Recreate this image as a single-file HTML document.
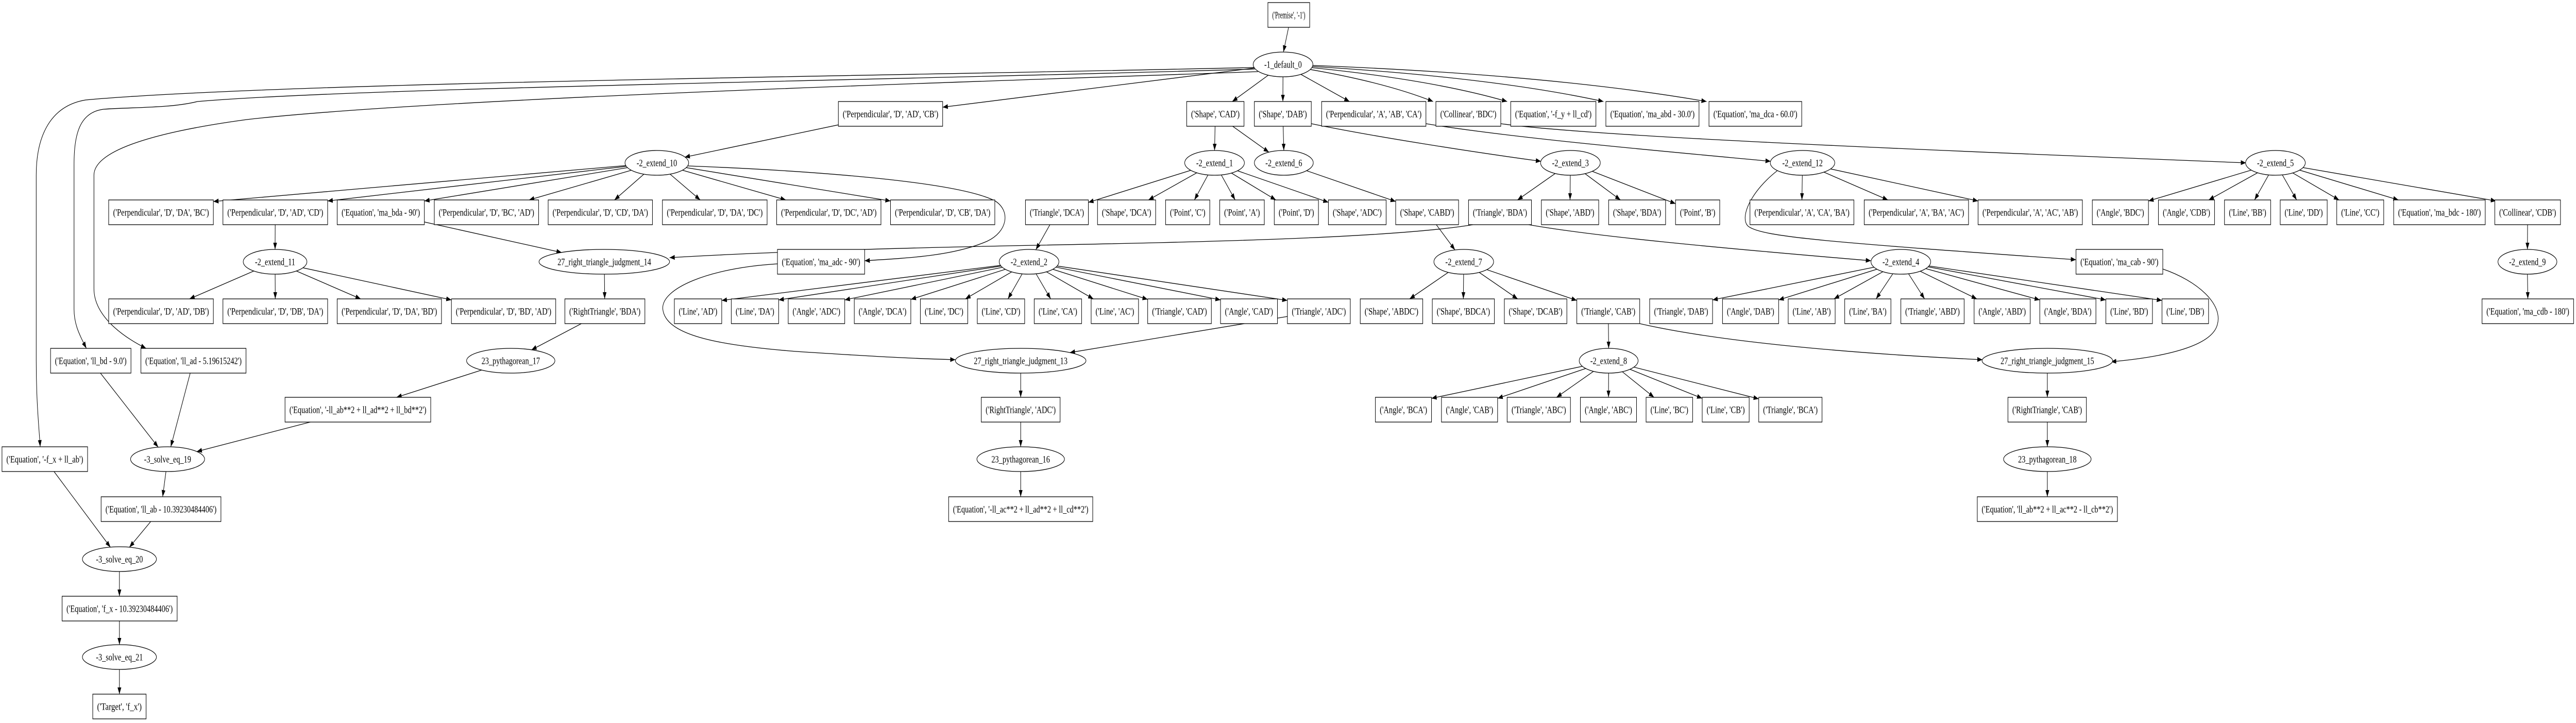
<!DOCTYPE html>
<html><head><meta charset="utf-8"><style>
html,body{margin:0;padding:0;background:#fff;overflow:hidden;}
svg{display:block;width:100vw;height:100vh;}
rect,ellipse{fill:#fff;stroke:#000;stroke-width:1.3;}
text{font-family:"Liberation Serif",serif;font-size:18.5px;text-anchor:middle;fill:#000;}
#edges path{fill:none;stroke:#000;stroke-width:1.3;marker-end:url(#ah);}
</style></head><body>
<svg viewBox="0 0 6471 1403" preserveAspectRatio="none" xmlns="http://www.w3.org/2000/svg">
<defs><marker id="ah" markerUnits="userSpaceOnUse" markerWidth="14" markerHeight="10" refX="13" refY="4.7" orient="auto"><path d="M0,0 L13,4.7 L0,9.4 z" fill="#000" stroke="none"/></marker></defs>
<g id="edges">
<path d="M3237,53 L3224,101"/>
<path d="M3223,125 L2368,208"/>
<path d="M3223,125 L3095.5,197"/>
<path d="M3223,125 L3222.6,197"/>
<path d="M3223,125 L3390,197"/>
<path d="M3285,134 Q3480,160 3600,197"/>
<path d="M3292,131 Q3600,155 3786,197"/>
<path d="M3296,129 Q3750,150 4028,197"/>
<path d="M3297,127 Q3900,145 4287,197"/>
<path d="M3150,131 C2200,148 700,160 215,194 C130,205 91,260 91,340 L91,700 C91,780 98,830 101,867"/>
<path d="M3152,134 C2300,155 900,170 496,197 C430,210 330,208 260,212 C200,218 186,260 186,320 L186,600 C186,630 200,650 217,676"/>
<path d="M3160,139 C2400,160 1100,190 620,232 C400,255 236,290 236,340 L236,560 C236,610 300,650 367,676"/>
<path d="M2237,221 L1720,305"/>
<path d="M1650,316 L536,391"/>
<path d="M1650,316 L823,390"/>
<path d="M1650,316 L1066,390"/>
<path d="M1650,316 L1329,388"/>
<path d="M1650,316 L1543.5,388"/>
<path d="M1650,316 L1759,388"/>
<path d="M1650,316 L1974,388"/>
<path d="M1650,316 L2237,390"/>
<path d="M1728,322 C2000,330 2400,350 2500,390 C2540,410 2530,450 2480,468 C2400,495 2300,500 2172,506"/>
<path d="M691.5,412 L691,484"/>
<path d="M691,508 L476,580"/>
<path d="M691,508 L691.5,580"/>
<path d="M691,508 L906,580"/>
<path d="M691,508 L1134,582"/>
<path d="M956.5,412 L1411,490"/>
<path d="M3700,436 C3500,462 3000,470 2600,476 C2200,482 1900,490 1682,500"/>
<path d="M1518,508 L1519,580"/>
<path d="M1519.5,604 L1335,679"/>
<path d="M1283,700 L996,771"/>
<path d="M899,795 L494.3,876.3"/>
<path d="M228,700 L397.5,867.8"/>
<path d="M486,700 L429,867"/>
<path d="M421,891 L408.6,964"/>
<path d="M404.5,988 L325,1062"/>
<path d="M112.5,891 L277.5,1062"/>
<path d="M300,1109 L300,1157"/>
<path d="M300,1205 L300,1251"/>
<path d="M300,1299 L300,1347"/>
<path d="M3053,221 L3051,292"/>
<path d="M3053,221 L3187.5,295.3"/>
<path d="M3222.5,221 L3225,292"/>
<path d="M3294,240 C3450,265 3700,295 3871,313"/>
<path d="M3051,316 L2734,392.8"/>
<path d="M3051,316 L2885,388"/>
<path d="M3051,316 L3000.4,388"/>
<path d="M3051,316 L3102.75,388"/>
<path d="M3051,316 L3205,388"/>
<path d="M3051,316 L3337,392.6"/>
<path d="M3225,316 L3506,391"/>
<path d="M2655,412 L2602,484.6"/>
<path d="M2585,508 L1813,583"/>
<path d="M2585,508 L1956,582"/>
<path d="M2585,508 L2122,582"/>
<path d="M2585,508 L2288,581"/>
<path d="M2585,508 L2425,580"/>
<path d="M2585,508 L2532,580"/>
<path d="M2585,508 L2639.4,580"/>
<path d="M2585,508 L2746.6,580"/>
<path d="M2585,508 L2883,581"/>
<path d="M2585,508 L3066,582"/>
<path d="M2585,508 L3234,583"/>
<path d="M3313,604 L2687.4,684.2"/>
<path d="M1953,512 C1780,520 1660,560 1665,600 C1672,650 1800,670 2000,682 C2200,692 2300,696 2400,698"/>
<path d="M2564,724 L2564,771"/>
<path d="M2564,819 L2564,867"/>
<path d="M2564,915 L2564,964"/>
<path d="M3585,412 L3655,485"/>
<path d="M3677,508 L3541,580"/>
<path d="M3677,508 L3676,580"/>
<path d="M3677,508 L3812.4,580"/>
<path d="M3677,508 L3961,583"/>
<path d="M3945,316 L3812,388"/>
<path d="M3945,316 L3944,388"/>
<path d="M3945,316 L4070.6,388"/>
<path d="M3945,316 L4209,395.3"/>
<path d="M3840,436 C4000,458 4300,480 4700,506"/>
<path d="M4775,508 L4302,582"/>
<path d="M4775,508 L4468,582"/>
<path d="M4775,508 L4607,580"/>
<path d="M4775,508 L4712.75,580"/>
<path d="M4775,508 L4834.6,580"/>
<path d="M4775,508 L4965.9,580"/>
<path d="M4775,508 L5124,582"/>
<path d="M4775,508 L5290,582"/>
<path d="M4775,508 L5431,583"/>
<path d="M4040,604 L4041,676"/>
<path d="M4041,700 L3596,773"/>
<path d="M4041,700 L3762,773"/>
<path d="M4041,700 L3910,771"/>
<path d="M4041,700 L4040.6,771"/>
<path d="M4041,700 L4155,771"/>
<path d="M4041,700 L4276,773"/>
<path d="M4041,700 L4418,774"/>
<path d="M4119,628 C4300,660 4600,684 4980,698"/>
<path d="M3582,240 C3800,268 4200,295 4448,313"/>
<path d="M4528,316 L4526.5,388"/>
<path d="M4528,316 L4742.5,388"/>
<path d="M4528,316 L4969,390"/>
<path d="M4465,331 C4400,370 4370,420 4390,438 C4420,460 4600,470 5215,504"/>
<path d="M5433,522 C5520,545 5585,590 5570,630 C5555,675 5420,694 5303,702"/>
<path d="M5143,724 L5143,771"/>
<path d="M5143,819 L5143,867"/>
<path d="M5143,915 L5143,964"/>
<path d="M3770,240 C4000,265 4800,290 5642,316"/>
<path d="M5716,316 L5397,390"/>
<path d="M5716,316 L5548.4,388"/>
<path d="M5716,316 L5663.5,388"/>
<path d="M5716,316 L5769.25,388"/>
<path d="M5716,316 L5875.75,388"/>
<path d="M5716,316 L6025,388"/>
<path d="M5716,316 L6270,390"/>
<path d="M6349.5,412 L6349,484"/>
<path d="M6349,532 L6350,580"/>
</g>
<g id="nodes">
<g><rect x="3185" y="5" width="105" height="48"/><text x="3237.5" y="35.5" textLength="83" lengthAdjust="spacingAndGlyphs">('Premise', '-1')</text></g>
<g><ellipse cx="3223" cy="125" rx="75" ry="24"/><text x="3223" y="131.5">-1_default_0</text></g>

<g><rect x="2106" y="197" width="262" height="48"/><text x="2237" y="227.5" textLength="240" lengthAdjust="spacingAndGlyphs">('Perpendicular', 'D', 'AD', 'CB')</text></g>
<g><rect x="2981" y="197" width="144" height="48"/><text x="3053" y="227.5" textLength="122" lengthAdjust="spacingAndGlyphs">('Shape', 'CAD')</text></g>
<g><rect x="3151" y="197" width="143" height="48"/><text x="3222.5" y="227.5" textLength="121" lengthAdjust="spacingAndGlyphs">('Shape', 'DAB')</text></g>
<g><rect x="3320" y="197" width="262" height="48"/><text x="3451" y="227.5" textLength="240" lengthAdjust="spacingAndGlyphs">('Perpendicular', 'A', 'AB', 'CA')</text></g>
<g><rect x="3607" y="197" width="163" height="48"/><text x="3688.5" y="227.5" textLength="141" lengthAdjust="spacingAndGlyphs">('Collinear', 'BDC')</text></g>
<g><rect x="3795" y="197" width="214" height="48"/><text x="3902" y="227.5" textLength="192" lengthAdjust="spacingAndGlyphs">('Equation', '-f_y + ll_cd')</text></g>
<g><rect x="4034" y="197" width="234" height="48"/><text x="4151" y="227.5" textLength="212" lengthAdjust="spacingAndGlyphs">('Equation', 'ma_abd - 30.0')</text></g>
<g><rect x="4293" y="197" width="233" height="48"/><text x="4409.5" y="227.5" textLength="211" lengthAdjust="spacingAndGlyphs">('Equation', 'ma_dca - 60.0')</text></g>

<g><ellipse cx="1650" cy="316" rx="80" ry="24"/><text x="1650" y="322.5">-2_extend_10</text></g>
<g><ellipse cx="3051" cy="316" rx="75" ry="24"/><text x="3051" y="322.5">-2_extend_1</text></g>
<g><ellipse cx="3225" cy="316" rx="74" ry="24"/><text x="3225" y="322.5">-2_extend_6</text></g>
<g><ellipse cx="3945" cy="316" rx="75" ry="24"/><text x="3945" y="322.5">-2_extend_3</text></g>
<g><ellipse cx="4528" cy="316" rx="81" ry="24"/><text x="4528" y="322.5">-2_extend_12</text></g>
<g><ellipse cx="5716" cy="316" rx="75" ry="24"/><text x="5716" y="322.5">-2_extend_5</text></g>

<g><rect x="273" y="388" width="263" height="48"/><text x="404.5" y="418.5" textLength="241" lengthAdjust="spacingAndGlyphs">('Perpendicular', 'D', 'DA', 'BC')</text></g>
<g><rect x="560" y="388" width="263" height="48"/><text x="691.5" y="418.5" textLength="241" lengthAdjust="spacingAndGlyphs">('Perpendicular', 'D', 'AD', 'CD')</text></g>
<g><rect x="847" y="388" width="219" height="48"/><text x="956.5" y="418.5" textLength="197" lengthAdjust="spacingAndGlyphs">('Equation', 'ma_bda - 90')</text></g>
<g><rect x="1091" y="388" width="262" height="48"/><text x="1222" y="418.5" textLength="240" lengthAdjust="spacingAndGlyphs">('Perpendicular', 'D', 'BC', 'AD')</text></g>
<g><rect x="1377" y="388" width="262" height="48"/><text x="1508" y="418.5" textLength="240" lengthAdjust="spacingAndGlyphs">('Perpendicular', 'D', 'CD', 'DA')</text></g>
<g><rect x="1664" y="388" width="263" height="48"/><text x="1795.5" y="418.5" textLength="241" lengthAdjust="spacingAndGlyphs">('Perpendicular', 'D', 'DA', 'DC')</text></g>
<g><rect x="1951" y="388" width="262" height="48"/><text x="2082" y="418.5" textLength="240" lengthAdjust="spacingAndGlyphs">('Perpendicular', 'D', 'DC', 'AD')</text></g>
<g><rect x="2237" y="388" width="262" height="48"/><text x="2368" y="418.5" textLength="240" lengthAdjust="spacingAndGlyphs">('Perpendicular', 'D', 'CB', 'DA')</text></g>
<g><rect x="2576" y="388" width="158" height="48"/><text x="2655" y="418.5" textLength="136" lengthAdjust="spacingAndGlyphs">('Triangle', 'DCA')</text></g>
<g><rect x="2757" y="388" width="146" height="48"/><text x="2830" y="418.5" textLength="124" lengthAdjust="spacingAndGlyphs">('Shape', 'DCA')</text></g>
<g><rect x="2928" y="388" width="111" height="48"/><text x="2983.5" y="418.5" textLength="89" lengthAdjust="spacingAndGlyphs">('Point', 'C')</text></g>
<g><rect x="3064" y="388" width="112" height="48"/><text x="3120" y="418.5" textLength="90" lengthAdjust="spacingAndGlyphs">('Point', 'A')</text></g>
<g><rect x="3201" y="388" width="111" height="48"/><text x="3256.5" y="418.5" textLength="89" lengthAdjust="spacingAndGlyphs">('Point', 'D')</text></g>
<g><rect x="3337" y="388" width="145" height="48"/><text x="3409.5" y="418.5" textLength="123" lengthAdjust="spacingAndGlyphs">('Shape', 'ADC')</text></g>
<g><rect x="3506" y="388" width="158" height="48"/><text x="3585" y="418.5" textLength="136" lengthAdjust="spacingAndGlyphs">('Shape', 'CABD')</text></g>
<g><rect x="3689" y="388" width="158" height="48"/><text x="3768" y="418.5" textLength="136" lengthAdjust="spacingAndGlyphs">('Triangle', 'BDA')</text></g>
<g><rect x="3872" y="388" width="144" height="48"/><text x="3944" y="418.5" textLength="122" lengthAdjust="spacingAndGlyphs">('Shape', 'ABD')</text></g>
<g><rect x="4041" y="388" width="143" height="48"/><text x="4112.5" y="418.5" textLength="121" lengthAdjust="spacingAndGlyphs">('Shape', 'BDA')</text></g>
<g><rect x="4209" y="388" width="111" height="48"/><text x="4264.5" y="418.5" textLength="89" lengthAdjust="spacingAndGlyphs">('Point', 'B')</text></g>
<g><rect x="4396" y="388" width="261" height="48"/><text x="4526.5" y="418.5" textLength="239" lengthAdjust="spacingAndGlyphs">('Perpendicular', 'A', 'CA', 'BA')</text></g>
<g><rect x="4683" y="388" width="262" height="48"/><text x="4814" y="418.5" textLength="240" lengthAdjust="spacingAndGlyphs">('Perpendicular', 'A', 'BA', 'AC')</text></g>
<g><rect x="4969" y="388" width="262" height="48"/><text x="5100" y="418.5" textLength="240" lengthAdjust="spacingAndGlyphs">('Perpendicular', 'A', 'AC', 'AB')</text></g>
<g><rect x="5256" y="388" width="141" height="48"/><text x="5326.5" y="418.5" textLength="119" lengthAdjust="spacingAndGlyphs">('Angle', 'BDC')</text></g>
<g><rect x="5422" y="388" width="141" height="48"/><text x="5492.5" y="418.5" textLength="119" lengthAdjust="spacingAndGlyphs">('Angle', 'CDB')</text></g>
<g><rect x="5588" y="388" width="116" height="48"/><text x="5646" y="418.5" textLength="94" lengthAdjust="spacingAndGlyphs">('Line', 'BB')</text></g>
<g><rect x="5728" y="388" width="118" height="48"/><text x="5787" y="418.5" textLength="96" lengthAdjust="spacingAndGlyphs">('Line', 'DD')</text></g>
<g><rect x="5870" y="388" width="118" height="48"/><text x="5929" y="418.5" textLength="96" lengthAdjust="spacingAndGlyphs">('Line', 'CC')</text></g>
<g><rect x="6013" y="388" width="230" height="48"/><text x="6128" y="418.5" textLength="208" lengthAdjust="spacingAndGlyphs">('Equation', 'ma_bdc - 180')</text></g>
<g><rect x="6267" y="388" width="165" height="48"/><text x="6349.5" y="418.5" textLength="143" lengthAdjust="spacingAndGlyphs">('Collinear', 'CDB')</text></g>

<g><rect x="1953" y="484" width="219" height="48"/><text x="2062.5" y="514.5" textLength="197" lengthAdjust="spacingAndGlyphs">('Equation', 'ma_adc - 90')</text></g>
<g><rect x="5215" y="484" width="218" height="48"/><text x="5324" y="514.5" textLength="196" lengthAdjust="spacingAndGlyphs">('Equation', 'ma_cab - 90')</text></g>
<g><ellipse cx="691" cy="508" rx="80" ry="24"/><text x="691" y="514.5">-2_extend_11</text></g>
<g><ellipse cx="1518" cy="508" rx="164" ry="24"/><text x="1518" y="514.5">27_right_triangle_judgment_14</text></g>
<g><ellipse cx="2585" cy="508" rx="75" ry="24"/><text x="2585" y="514.5">-2_extend_2</text></g>
<g><ellipse cx="3677" cy="508" rx="75" ry="24"/><text x="3677" y="514.5">-2_extend_7</text></g>
<g><ellipse cx="4775" cy="508" rx="75" ry="24"/><text x="4775" y="514.5">-2_extend_4</text></g>
<g><ellipse cx="6349" cy="508" rx="74" ry="24"/><text x="6349" y="514.5">-2_extend_9</text></g>

<g><rect x="273" y="580" width="263" height="48"/><text x="404.5" y="610.5" textLength="241" lengthAdjust="spacingAndGlyphs">('Perpendicular', 'D', 'AD', 'DB')</text></g>
<g><rect x="560" y="580" width="263" height="48"/><text x="691.5" y="610.5" textLength="241" lengthAdjust="spacingAndGlyphs">('Perpendicular', 'D', 'DB', 'DA')</text></g>
<g><rect x="847" y="580" width="262" height="48"/><text x="978" y="610.5" textLength="240" lengthAdjust="spacingAndGlyphs">('Perpendicular', 'D', 'DA', 'BD')</text></g>
<g><rect x="1134" y="580" width="262" height="48"/><text x="1265" y="610.5" textLength="240" lengthAdjust="spacingAndGlyphs">('Perpendicular', 'D', 'BD', 'AD')</text></g>
<g><rect x="1419" y="580" width="201" height="48"/><text x="1519.5" y="610.5" textLength="179" lengthAdjust="spacingAndGlyphs">('RightTriangle', 'BDA')</text></g>
<g><rect x="1694" y="580" width="119" height="48"/><text x="1753.5" y="610.5" textLength="97" lengthAdjust="spacingAndGlyphs">('Line', 'AD')</text></g>
<g><rect x="1837" y="580" width="119" height="48"/><text x="1896.5" y="610.5" textLength="97" lengthAdjust="spacingAndGlyphs">('Line', 'DA')</text></g>
<g><rect x="1980" y="580" width="142" height="48"/><text x="2051" y="610.5" textLength="120" lengthAdjust="spacingAndGlyphs">('Angle', 'ADC')</text></g>
<g><rect x="2146" y="580" width="142" height="48"/><text x="2217" y="610.5" textLength="120" lengthAdjust="spacingAndGlyphs">('Angle', 'DCA')</text></g>
<g><rect x="2312" y="580" width="119" height="48"/><text x="2371.5" y="610.5" textLength="97" lengthAdjust="spacingAndGlyphs">('Line', 'DC')</text></g>
<g><rect x="2455" y="580" width="119" height="48"/><text x="2514.5" y="610.5" textLength="97" lengthAdjust="spacingAndGlyphs">('Line', 'CD')</text></g>
<g><rect x="2598" y="580" width="119" height="48"/><text x="2657.5" y="610.5" textLength="97" lengthAdjust="spacingAndGlyphs">('Line', 'CA')</text></g>
<g><rect x="2741" y="580" width="119" height="48"/><text x="2800.5" y="610.5" textLength="97" lengthAdjust="spacingAndGlyphs">('Line', 'AC')</text></g>
<g><rect x="2883" y="580" width="160" height="48"/><text x="2963" y="610.5" textLength="138" lengthAdjust="spacingAndGlyphs">('Triangle', 'CAD')</text></g>
<g><rect x="3066" y="580" width="143" height="48"/><text x="3137.5" y="610.5" textLength="121" lengthAdjust="spacingAndGlyphs">('Angle', 'CAD')</text></g>
<g><rect x="3234" y="580" width="158" height="48"/><text x="3313" y="610.5" textLength="136" lengthAdjust="spacingAndGlyphs">('Triangle', 'ADC')</text></g>
<g><rect x="3417" y="580" width="157" height="48"/><text x="3495.5" y="610.5" textLength="135" lengthAdjust="spacingAndGlyphs">('Shape', 'ABDC')</text></g>
<g><rect x="3598" y="580" width="156" height="48"/><text x="3676" y="610.5" textLength="134" lengthAdjust="spacingAndGlyphs">('Shape', 'BDCA')</text></g>
<g><rect x="3779" y="580" width="157" height="48"/><text x="3857.5" y="610.5" textLength="135" lengthAdjust="spacingAndGlyphs">('Shape', 'DCAB')</text></g>
<g><rect x="3961" y="580" width="158" height="48"/><text x="4040" y="610.5" textLength="136" lengthAdjust="spacingAndGlyphs">('Triangle', 'CAB')</text></g>
<g><rect x="4144" y="580" width="158" height="48"/><text x="4223" y="610.5" textLength="136" lengthAdjust="spacingAndGlyphs">('Triangle', 'DAB')</text></g>
<g><rect x="4327" y="580" width="141" height="48"/><text x="4397.5" y="610.5" textLength="119" lengthAdjust="spacingAndGlyphs">('Angle', 'DAB')</text></g>
<g><rect x="4492" y="580" width="118" height="48"/><text x="4551" y="610.5" textLength="96" lengthAdjust="spacingAndGlyphs">('Line', 'AB')</text></g>
<g><rect x="4634" y="580" width="116" height="48"/><text x="4692" y="610.5" textLength="94" lengthAdjust="spacingAndGlyphs">('Line', 'BA')</text></g>
<g><rect x="4775" y="580" width="159" height="48"/><text x="4854.5" y="610.5" textLength="137" lengthAdjust="spacingAndGlyphs">('Triangle', 'ABD')</text></g>
<g><rect x="4959" y="580" width="141" height="48"/><text x="5029.5" y="610.5" textLength="119" lengthAdjust="spacingAndGlyphs">('Angle', 'ABD')</text></g>
<g><rect x="5124" y="580" width="141" height="48"/><text x="5194.5" y="610.5" textLength="119" lengthAdjust="spacingAndGlyphs">('Angle', 'BDA')</text></g>
<g><rect x="5290" y="580" width="117" height="48"/><text x="5348.5" y="610.5" textLength="95" lengthAdjust="spacingAndGlyphs">('Line', 'BD')</text></g>
<g><rect x="5431" y="580" width="117" height="48"/><text x="5489.5" y="610.5" textLength="95" lengthAdjust="spacingAndGlyphs">('Line', 'DB')</text></g>
<g><rect x="6235" y="580" width="230" height="48"/><text x="6350" y="610.5" textLength="208" lengthAdjust="spacingAndGlyphs">('Equation', 'ma_cdb - 180')</text></g>

<g><rect x="127" y="676" width="202" height="48"/><text x="228" y="706.5" textLength="180" lengthAdjust="spacingAndGlyphs">('Equation', 'll_bd - 9.0')</text></g>
<g><rect x="354" y="676" width="264" height="48"/><text x="486" y="706.5" textLength="242" lengthAdjust="spacingAndGlyphs">('Equation', 'll_ad - 5.19615242')</text></g>
<g><ellipse cx="1283" cy="700" rx="111" ry="24"/><text x="1283" y="706.5">23_pythagorean_17</text></g>
<g><ellipse cx="2564" cy="700" rx="164" ry="24"/><text x="2564" y="706.5">27_right_triangle_judgment_13</text></g>
<g><ellipse cx="4041" cy="700" rx="74" ry="24"/><text x="4041" y="706.5">-2_extend_8</text></g>
<g><ellipse cx="5143" cy="700" rx="164" ry="24"/><text x="5143" y="706.5">27_right_triangle_judgment_15</text></g>

<g><rect x="716" y="771" width="366" height="48"/><text x="899" y="801.5" textLength="344" lengthAdjust="spacingAndGlyphs">('Equation', '-ll_ab**2 + ll_ad**2 + ll_bd**2')</text></g>
<g><rect x="2465" y="771" width="198" height="48"/><text x="2564" y="801.5" textLength="176" lengthAdjust="spacingAndGlyphs">('RightTriangle', 'ADC')</text></g>
<g><rect x="3455" y="771" width="141" height="48"/><text x="3525.5" y="801.5" textLength="119" lengthAdjust="spacingAndGlyphs">('Angle', 'BCA')</text></g>
<g><rect x="3621" y="771" width="141" height="48"/><text x="3691.5" y="801.5" textLength="119" lengthAdjust="spacingAndGlyphs">('Angle', 'CAB')</text></g>
<g><rect x="3786" y="771" width="159" height="48"/><text x="3865.5" y="801.5" textLength="137" lengthAdjust="spacingAndGlyphs">('Triangle', 'ABC')</text></g>
<g><rect x="3970" y="771" width="141" height="48"/><text x="4040.5" y="801.5" textLength="119" lengthAdjust="spacingAndGlyphs">('Angle', 'ABC')</text></g>
<g><rect x="4135" y="771" width="117" height="48"/><text x="4193.5" y="801.5" textLength="95" lengthAdjust="spacingAndGlyphs">('Line', 'BC')</text></g>
<g><rect x="4276" y="771" width="118" height="48"/><text x="4335" y="801.5" textLength="96" lengthAdjust="spacingAndGlyphs">('Line', 'CB')</text></g>
<g><rect x="4418" y="771" width="159" height="48"/><text x="4497.5" y="801.5" textLength="137" lengthAdjust="spacingAndGlyphs">('Triangle', 'BCA')</text></g>
<g><rect x="5044" y="771" width="197" height="48"/><text x="5142.5" y="801.5" textLength="175" lengthAdjust="spacingAndGlyphs">('RightTriangle', 'CAB')</text></g>

<g><rect x="5" y="867" width="215" height="48"/><text x="112.5" y="897.5" textLength="193" lengthAdjust="spacingAndGlyphs">('Equation', '-f_x + ll_ab')</text></g>
<g><ellipse cx="421" cy="891" rx="93" ry="24"/><text x="421" y="897.5">-3_solve_eq_19</text></g>
<g><ellipse cx="2564" cy="891" rx="110" ry="24"/><text x="2564" y="897.5">23_pythagorean_16</text></g>
<g><ellipse cx="5143" cy="891" rx="110" ry="24"/><text x="5143" y="897.5">23_pythagorean_18</text></g>

<g><rect x="254" y="964" width="301" height="48"/><text x="404.5" y="994.5" textLength="279" lengthAdjust="spacingAndGlyphs">('Equation', 'll_ab - 10.39230484406')</text></g>
<g><rect x="2383" y="964" width="362" height="48"/><text x="2564" y="994.5" textLength="340" lengthAdjust="spacingAndGlyphs">('Equation', '-ll_ac**2 + ll_ad**2 + ll_cd**2')</text></g>
<g><rect x="4967" y="964" width="352" height="48"/><text x="5143" y="994.5" textLength="330" lengthAdjust="spacingAndGlyphs">('Equation', 'll_ab**2 + ll_ac**2 - ll_cb**2')</text></g>

<g><ellipse cx="300" cy="1085" rx="93" ry="24"/><text x="300" y="1091.5">-3_solve_eq_20</text></g>
<g><rect x="156" y="1157" width="289" height="48"/><text x="300.5" y="1187.5" textLength="267" lengthAdjust="spacingAndGlyphs">('Equation', 'f_x - 10.39230484406')</text></g>
<g><ellipse cx="300" cy="1275" rx="93" ry="24"/><text x="300" y="1281.5">-3_solve_eq_21</text></g>
<g><rect x="233" y="1347" width="134" height="48"/><text x="300" y="1377.5" textLength="112" lengthAdjust="spacingAndGlyphs">('Target', 'f_x')</text></g>
</g>
</svg>
</body></html>
